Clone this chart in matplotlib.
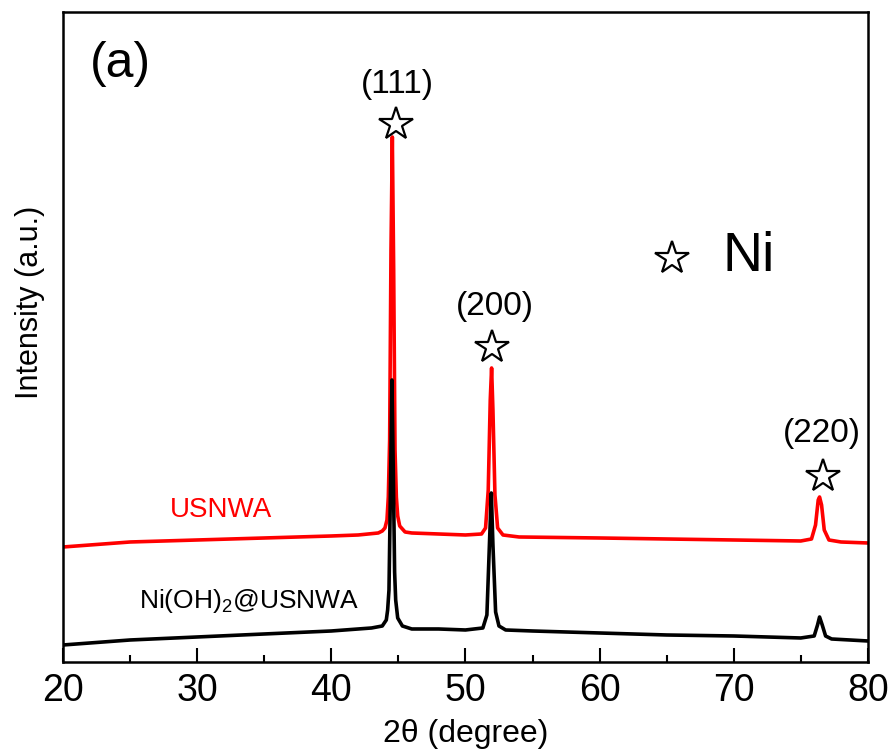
import matplotlib.pyplot as plt
from matplotlib.ticker import MultipleLocator

plt.rcParams['font.family'] = ['Liberation Sans', 'DejaVu Sans']
plt.rcParams['mathtext.fontset'] = 'custom'
plt.rcParams['mathtext.rm'] = 'Liberation Sans'
plt.rcParams['mathtext.it'] = 'Liberation Sans:italic'

# XRD patterns, 2theta (degree) vs intensity (a.u.)
usnwa_2theta = [20.0, 22.0, 25.0, 30.0, 35.0, 40.0, 42.0, 43.5, 43.8, 44.0,
                44.15, 44.25, 44.35, 44.45, 44.55, 44.65, 44.75, 44.85, 44.95, 45.1,
                45.5, 46.0, 48.0, 50.0, 51.2, 51.5, 51.7, 51.85, 51.95, 52.05,
                52.2, 52.4, 52.8, 54.0, 60.0, 65.0, 70.0, 75.0, 75.8, 76.1,
                76.3, 76.4, 76.55, 76.75, 77.1, 78.0, 80.0]
usnwa_int = [115, 117, 120, 122, 124, 126, 127, 129, 131, 134,
             142, 165, 222, 412, 525, 392, 212, 165, 146, 136,
             130, 129, 128, 127, 128, 134, 172, 262, 294, 252,
             167, 134, 127, 125, 124, 123, 122, 121, 123, 137,
             162, 165, 157, 132, 122, 120, 119]

nioh_2theta = [20.0, 22.0, 25.0, 30.0, 35.0, 40.0, 43.0, 43.8, 44.1, 44.2,
               44.3, 44.42, 44.52, 44.62, 44.72, 44.8, 44.95, 45.3, 46.0, 48.0,
               50.0, 51.3, 51.6, 51.8, 51.93, 52.05, 52.25, 52.5, 53.0, 55.0,
               60.0, 65.0, 70.0, 75.0, 76.0, 76.25, 76.4, 76.6, 76.85, 77.3,
               80.0]
nioh_int = [17, 19, 22, 25, 28, 31, 34, 36, 42, 52,
            72, 182, 282, 192, 90, 62, 44, 36, 33, 33,
            32, 34, 47, 122, 169, 117, 50, 36, 32, 31,
            29, 27, 26, 24, 26, 37, 45, 37, 26, 23,
            21]

# Ni reflections: label, marker position
peak_labels = ['(111)', '(200)', '(220)']
peak_2theta = [44.85, 52.0, 76.64]
star_int = [538, 315, 186]
label_int = [578, 355, 228]
label_2theta = [44.93, 52.16, 76.57]

fig = plt.figure(figsize=(8.89, 7.55), dpi=100)
ax = fig.add_axes([0.0709, 0.1232, 0.9053, 0.8609])

ax.plot(usnwa_2theta, usnwa_int, color='#ff0000', lw=2.6)
ax.plot(nioh_2theta, nioh_int, color='black', lw=2.6)

for lab, lx, ly, sx, sy in zip(peak_labels, label_2theta, label_int, peak_2theta, star_int):
    ax.text(lx, ly, lab, fontsize=24, ha='center', va='center')
    ax.plot(sx, sy, marker='*', ms=25, mfc='white', mec='black', mew=1.6)

ax.plot(65.37, 404, marker='*', ms=25, mfc='white', mec='black', mew=1.6)
ax.text(71.12, 405, 'Ni', fontsize=40, ha='center', va='center')

ax.text(24.25, 598, '(a)', fontsize=36, ha='center', va='center')
ax.text(31.79, 152, 'USNWA', fontsize=20, color='#ff0000', ha='center', va='center')
ax.text(33.84, 61, 'Ni(OH)$_2$@USNWA', fontsize=19, ha='center', va='center')

ax.set_xlim(20, 80)
ax.set_ylim(0, 650)
ax.set_yticks([])
ax.xaxis.set_major_locator(MultipleLocator(10))
ax.xaxis.set_minor_locator(MultipleLocator(5))
ax.tick_params(axis='x', which='major', direction='in', length=10, width=1.5,
               labelsize=27, pad=8, top=False)
ax.tick_params(axis='x', which='minor', direction='in', length=5, width=1.5, top=False)
for sp in ax.spines.values():
    sp.set_linewidth(1.8)

ax.set_xlabel('2θ (degree)', fontsize=23, labelpad=7)
fig.text(30 / 889, 1 - 302 / 755, 'Intensity (a.u.)', fontsize=22,
         rotation=90, ha='center', va='center')

fig.savefig('out.png', dpi=100)
